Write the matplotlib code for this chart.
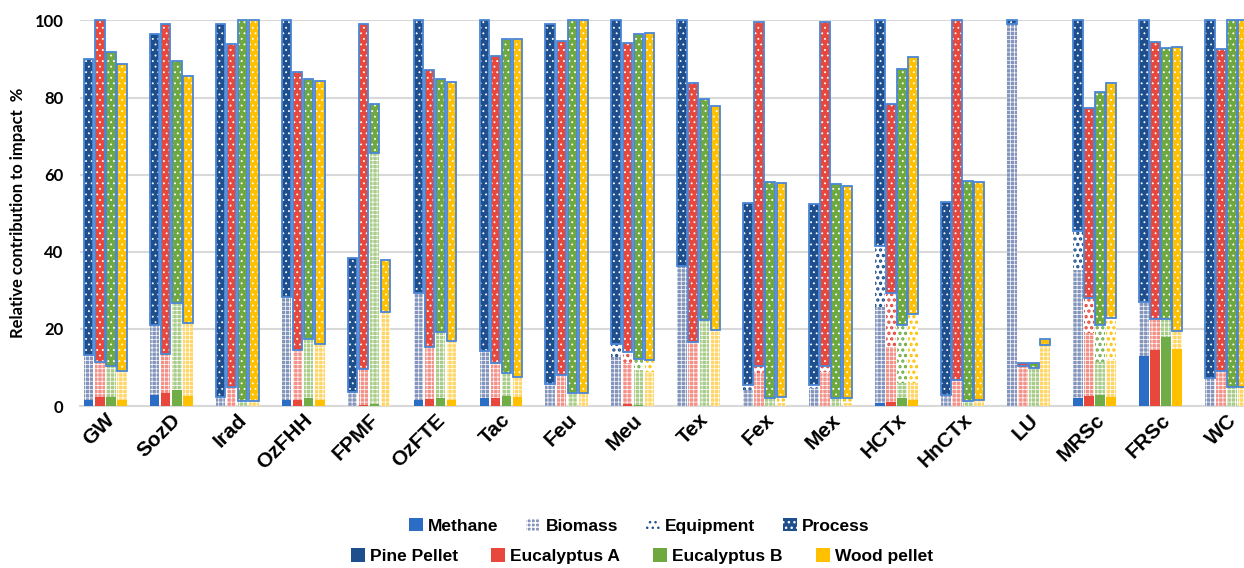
import numpy as np
import matplotlib.pyplot as plt
from matplotlib.patches import Patch

categories = ['GW', 'SozD', 'Irad', 'OzFHH', 'FPMF', 'OzFTE', 'Tac', 'Feu', 'Meu',
              'Tex', 'Fex', 'Mex', 'HCTx', 'HnCTx', 'LU', 'MRSc', 'FRSc', 'WC']
fuels = ['Pine Pellet', 'Eucalyptus A', 'Eucalyptus B', 'Wood pellet']
stages = ['Methane', 'Biomass', 'Equipment', 'Process']

# contribution of each stage (%) per impact category
pine_methane = [1.5, 3.0, 0, 1.5, 0, 1.5, 2.0, 0, 0, 0, 0, 0, 0.7, 0, 0, 2.0, 13.0, 0]
pine_biomass = [11.7, 18.0, 2.4, 26.9, 3.6, 27.8, 12.4, 5.7, 12.8, 36.0, 4.2, 4.6, 25.1, 2.9, 99.1, 33.3, 13.9, 7.4]
pine_equipment = [0, 0, 0, 0, 0, 0, 0, 0, 3.3, 0.4, 1.4, 0.9, 15.8, 0, 0, 10.0, 0, 0]
pine_process = [76.8, 75.5, 96.6, 71.6, 34.8, 70.7, 85.6, 93.3, 83.9, 63.6, 47.0, 46.9, 58.4, 50.0, 0.9, 54.7, 73.1, 92.6]

eua_methane = [2.3, 3.5, 0, 1.5, 0.3, 1.8, 2.0, 0, 0.5, 0, 0, 0, 1.1, 0, 0, 2.6, 14.5, 0]
eua_biomass = [9.1, 10.0, 5.0, 13.0, 9.3, 13.6, 9.1, 8.1, 10.6, 16.5, 8.5, 8.9, 14.3, 6.9, 10.5, 16.3, 8.1, 9.2]
eua_equipment = [0, 0, 0, 0, 0, 0, 0, 0, 3.0, 0, 2.0, 1.6, 13.9, 0, 0, 9.1, 0, 0]
eua_process = [88.6, 85.7, 89.0, 72.2, 89.6, 71.7, 79.8, 86.5, 80.1, 67.3, 89.1, 89.1, 49.1, 93.1, 0.8, 49.3, 71.8, 83.5]

eub_methane = [2.4, 4.3, 0, 2.0, 0.5, 2.0, 2.6, 0, 0.3, 0, 0, 0, 2.0, 0, 0, 2.9, 18.0, 0]
eub_biomass = [8.0, 22.4, 1.3, 15.4, 65.1, 17.1, 5.9, 3.3, 9.1, 22.3, 2.0, 2.0, 3.9, 1.3, 9.9, 8.6, 4.6, 5.0]
eub_equipment = [0, 0, 0, 0, 0, 0, 0, 0, 2.8, 0, 0, 0, 15.1, 0, 0, 9.5, 0, 0]
eub_process = [81.5, 62.8, 98.7, 67.5, 12.8, 65.7, 86.6, 96.7, 84.3, 57.4, 56.0, 55.6, 66.5, 57.0, 1.4, 60.5, 70.3, 95.0]

wood_methane = [1.7, 2.7, 0, 1.5, 0, 1.5, 2.3, 0, 0, 0, 0, 0, 1.5, 0, 0, 2.4, 14.8, 0]
wood_biomass = [7.4, 18.8, 1.3, 14.5, 24.5, 15.5, 5.3, 3.3, 8.9, 19.7, 0.8, 0.8, 4.4, 1.5, 15.8, 9.5, 4.8, 5.0]
wood_equipment = [0, 0, 0, 0, 0, 0, 0, 0, 3.0, 0, 1.6, 1.2, 18.0, 0, 0, 10.9, 0, 0]
wood_process = [79.7, 64.2, 98.7, 68.4, 13.4, 67.0, 87.7, 96.7, 84.9, 58.2, 55.4, 55.2, 66.7, 56.6, 1.6, 61.0, 73.5, 95.0]

data = [
    [pine_methane, pine_biomass, pine_equipment, pine_process],
    [eua_methane, eua_biomass, eua_equipment, eua_process],
    [eub_methane, eub_biomass, eub_equipment, eub_process],
    [wood_methane, wood_biomass, wood_equipment, wood_process],
]

methane_col = ['#2B6CC4', '#E8483C', '#70AD47', '#FFC000']
process_col = ['#1F4E8C', '#E8483C', '#6FA83F', '#FFC000']
biomass_col = ['#8395BC', '#F39088', '#A9CC89', '#FFD666']
dot_col = ['#1F4E8C', '#E8483C', '#70AD47', '#FFC000']
outline = '#4A86D6'


def hatch_lw(bars, lw):
    for p in bars:
        if hasattr(p, 'set_hatch_linewidth'):
            p.set_hatch_linewidth(lw)


fig = plt.figure(figsize=(12.44, 5.68), dpi=100)
ax = fig.add_axes([0.0643, 0.285, 0.9357, 0.679])

x = np.arange(len(categories))
w = 0.15
step = 0.167

for i in range(4):
    xi = x + (i - 1.5) * step
    m, b, e, p = [np.array(s) for s in data[i]]
    ax.bar(xi, m, w, color=methane_col[i], linewidth=0, zorder=3)
    bb = ax.bar(xi, b, w, bottom=m, color=biomass_col[i], edgecolor='white',
                hatch='++++', linewidth=0, zorder=3)
    hatch_lw(bb, 0.5)
    be = ax.bar(xi, e, w, bottom=m + b, color='white', edgecolor=dot_col[i],
                hatch='...', linewidth=0, zorder=3)
    hatch_lw(be, 1.6)
    bp = ax.bar(xi, p, w, bottom=m + b + e, color=process_col[i], edgecolor='white',
                hatch='...', linewidth=0, zorder=3)
    hatch_lw(bp, 0.6)
    ax.bar(xi, p, w, bottom=m + b + e, fill=False, edgecolor=outline,
           linewidth=1.3, zorder=4, clip_on=False)

ax.set_xlim(-0.38, 17.26)
ax.set_ylim(0, 100)
ax.set_yticks([0, 20, 40, 60, 80, 100])
ax.yaxis.grid(True, color='#D9D9D9', linewidth=1.5, zorder=0)
for s in ['top', 'right', 'left']:
    ax.spines[s].set_visible(False)
ax.spines['bottom'].set_color('#D9D9D9')
ax.spines['bottom'].set_linewidth(1.5)
ax.tick_params(length=0)
ax.tick_params(axis='y', pad=12)
ax.tick_params(axis='x', pad=3)
ax.set_xticks(x)
ax.set_xticklabels(categories, rotation=45, ha='right', rotation_mode='anchor',
                   fontsize=15, fontweight='bold', family='Liberation Sans')
for t in ax.get_yticklabels():
    t.set_fontsize(12)
    t.set_fontweight('bold')
    t.set_family('Lato')
ax.set_ylabel('Relative contribution to impact  %', fontsize=12, fontweight='bold',
              family='Lato', labelpad=6)

stage_handles = [
    Patch(facecolor=methane_col[0], linewidth=0),
    Patch(facecolor=biomass_col[0], edgecolor='white', hatch='++++', linewidth=0),
    Patch(facecolor='white', edgecolor=dot_col[0], hatch='...', linewidth=0),
    Patch(facecolor=process_col[0], edgecolor='white', hatch='...', linewidth=0),
]
hatch_lw(stage_handles[1:2], 0.5)
hatch_lw(stage_handles[2:3], 1.6)
hatch_lw(stage_handles[3:], 0.6)
fuel_handles = [Patch(facecolor=c, linewidth=0) for c in process_col]

font = {'family': 'Liberation Sans', 'weight': 'bold', 'size': 12.5}
fig.legend(stage_handles, stages, loc='center', bbox_to_anchor=(0.514, 0.074),
           ncol=4, frameon=False, handlelength=0.8, handleheight=0.8,
           handletextpad=0.3, columnspacing=1.6, prop=font)
fig.legend(fuel_handles, fuels, loc='center', bbox_to_anchor=(0.516, 0.021),
           ncol=4, frameon=False, handlelength=0.8, handleheight=0.8,
           handletextpad=0.3, columnspacing=1.9, prop=font)

fig.savefig('out.png', dpi=100)
